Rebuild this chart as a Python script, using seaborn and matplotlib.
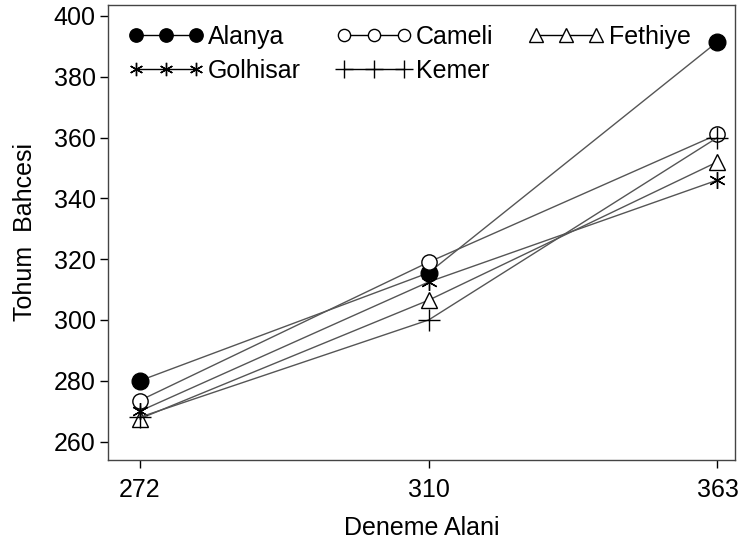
import numpy as np
import pandas as pd
import matplotlib
matplotlib.use("Agg")
import matplotlib.pyplot as plt
import seaborn as sns
from matplotlib.lines import Line2D

# ---------------------------
# Data
# ---------------------------
deneme_alani = ["272", "310", "363"]
alanya = [280.0, 315.5, 391.5]
cameli = [273.5, 319.0, 361.0]
fethiye = [267.5, 306.5, 352.0]
golhisar = [270.0, 312.5, 346.0]
kemer = [268.0, 300.0, 360.0]

series = {
    "Alanya": alanya,
    "Cameli": cameli,
    "Fethiye": fethiye,
    "Golhisar": golhisar,
    "Kemer": kemer,
}

rows = []
for name, vals in series.items():
    for i, v in enumerate(vals):
        rows.append({"group": name, "pos": i, "value": v})
df = pd.DataFrame(rows)

sns.set_style("ticks")
plt.rcParams["font.family"] = ["Liberation Sans", "DejaVu Sans"]
plt.rcParams["text.color"] = "black"
plt.rcParams["axes.labelcolor"] = "black"
plt.rcParams["xtick.color"] = "black"
plt.rcParams["ytick.color"] = "black"

styles = {
    "Alanya": dict(marker="o", markerfacecolor="black", markersize=12),
    "Cameli": dict(marker="o", markerfacecolor="white", markersize=11),
    "Fethiye": dict(marker="^", markerfacecolor="white", markersize=12),
    "Golhisar": dict(marker=(6, 2, 0), markerfacecolor="none", markersize=12),
    "Kemer": dict(marker="+", markerfacecolor="none", markersize=16),
}

fig = plt.figure(figsize=(7.4, 5.5), dpi=100)
ax = fig.add_axes([0.146, 0.164, 0.847, 0.827])

for name in series:
    sub = df[df["group"] == name]
    st = styles[name]
    sns.lineplot(data=sub, x="pos", y="value", ax=ax, color="#555555",
                 linewidth=1.0, marker=st["marker"], markersize=st["markersize"],
                 markerfacecolor=st["markerfacecolor"], markeredgecolor="black",
                 markeredgewidth=1.0, legend=False)

ax.set_xlim(-0.11, 2.06)
ax.set_ylim(254, 403.6)
ax.set_xticks(range(len(deneme_alani)))
ax.set_xticklabels(deneme_alani)
ax.set_yticks(np.arange(260, 401, 20))
ax.tick_params(labelsize=18, length=6, width=1, color="black")
ax.tick_params(axis="x", pad=7)
ax.tick_params(axis="y", pad=3)
ax.set_xlabel("Deneme Alani", fontsize=18, labelpad=10)
ax.set_ylabel("Tohum  Bahcesi", fontsize=18, labelpad=12)
for sp in ax.spines.values():
    sp.set_visible(True)
    sp.set_color("#444444")
    sp.set_linewidth(1.0)

# legend filled row by row like the reference
order = ["Alanya", "Golhisar", "Cameli", "Kemer", "Fethiye"]
handles = []
for name in order:
    st = styles[name]
    handles.append(Line2D([0], [0], color="black", linewidth=1.0,
                          marker=st["marker"],
                          markersize=st["markersize"] * 0.8,
                          markerfacecolor=st["markerfacecolor"],
                          markeredgecolor="black", markeredgewidth=1.0))
ax.legend(handles, order, ncol=3, numpoints=3, frameon=False,
          loc="upper left", bbox_to_anchor=(0.0, 1.0), fontsize=18,
          handlelength=3.0, handletextpad=0.2, columnspacing=1.4,
          labelspacing=0.4, borderaxespad=0.4)

fig.savefig("out.png", dpi=100)
